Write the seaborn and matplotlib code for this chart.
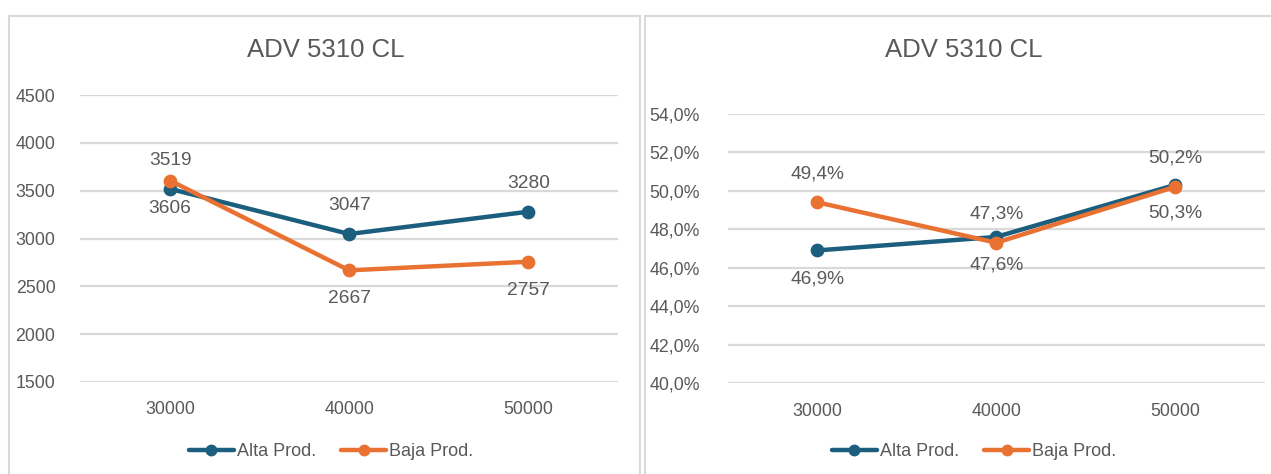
import matplotlib
matplotlib.use("Agg")
import matplotlib.pyplot as plt
from matplotlib.patches import Rectangle
from matplotlib.lines import Line2D
from matplotlib.ticker import FuncFormatter, MultipleLocator
import seaborn as sns
import pandas as pd

# Datos
cargas = ["30000", "40000", "50000"]
series = ["Alta Prod.", "Baja Prod."]
adv_alta = [3519, 3047, 3280]
adv_baja = [3606, 2667, 2757]
pct_alta = [46.9, 47.6, 50.3]
pct_baja = [49.4, 47.3, 50.2]
titulo = "ADV 5310 CL"

AZUL = "#1B5E7E"
NARANJA = "#E97132"
GRIS_TXT = "#595959"
GRIS_LIN = "#D9D9D9"
colores = [AZUL, NARANJA]

sns.set_style("white")
plt.rcParams["font.family"] = ["Liberation Sans", "DejaVu Sans"]

fig = plt.figure(figsize=(12.71, 4.74), dpi=100)


def tabla(a, b):
    return pd.DataFrame({
        "carga": cargas * 2,
        "valor": list(a) + list(b),
        "serie": [series[0]] * 3 + [series[1]] * 3,
    })


def panel(ax, df, fmt, ylim, paso, pad_y):
    sns.pointplot(data=df, x="carga", y="valor", hue="serie", order=cargas,
                  hue_order=series, palette=colores, markers="o",
                  markersize=7.5, linewidth=3.2, ax=ax, legend=False)
    ax.set_ylim(*ylim)
    ax.set_xlim(-0.5, 2.5)
    ax.yaxis.set_major_locator(MultipleLocator(paso))
    ax.yaxis.set_major_formatter(FuncFormatter(lambda v, p: fmt(v, True)))
    ax.grid(axis="y", color=GRIS_LIN, lw=1.6)
    ax.set_axisbelow(True)
    for s in ax.spines.values():
        s.set_visible(False)
    ax.tick_params(axis="both", length=0, labelsize=12.8, colors=GRIS_TXT)
    ax.tick_params(axis="y", pad=pad_y)
    ax.tick_params(axis="x", pad=14)
    ax.set_xlabel("")
    ax.set_ylabel("")


def etiquetas(ax, alta, baja, fmt, alta_arriba):
    for i in range(3):
        da = 20.5 if alta_arriba else -20.5
        ax.annotate(fmt(alta[i], False), (i, alta[i]), xytext=(0, da),
                    textcoords="offset points", ha="center", va="center",
                    fontsize=13.8, color=GRIS_TXT)
        ax.annotate(fmt(baja[i], False), (i, baja[i]), xytext=(0, -da),
                    textcoords="offset points", ha="center", va="center",
                    fontsize=13.8, color=GRIS_TXT)


def fmt_num(v, eje):
    return f"{v:.0f}"


def fmt_pct(v, eje):
    return f"{v:.1f}%".replace(".", ",")


# Marcos de los dos gráficos
W, H = 1271, 474
for x0, x1 in [(8.5, 640.5), (644.5, 1290)]:
    fig.patches.append(Rectangle((x0 / W, -0.05), (x1 - x0) / W, 1.05 - 15.5 / H,
                                 transform=fig.transFigure, fill=False,
                                 edgecolor=GRIS_LIN, lw=1.5))

ax1 = fig.add_axes([80.4 / W, (H - 382) / H, 537.6 / W, 287 / H])
panel(ax1, tabla(adv_alta, adv_baja), fmt_num, (1500, 4500), 500, 18)
etiquetas(ax1, adv_alta, adv_baja, fmt_num, True)

ax2 = fig.add_axes([727.8 / W, (H - 383.3) / H, 536.7 / W, 269.6 / H])
panel(ax2, tabla(pct_alta, pct_baja), fmt_pct, (40, 54), 2, 20)
etiquetas(ax2, pct_alta, pct_baja, fmt_pct, False)

manijas = [Line2D([], [], color=c, lw=3.2, marker="o", markersize=7.5)
           for c in colores]

for ax, cx, lx in [(ax1, 325.5, 331), (ax2, 964, 974)]:
    fig.text(cx / W, 1 - 50 / H, titulo, ha="center", va="center",
             fontsize=18.5, color=GRIS_TXT)
    ax.legend(manijas, series, loc="center", bbox_to_anchor=(lx / W, 1 - 452 / H),
              bbox_transform=fig.transFigure, ncol=2, frameon=False,
              fontsize=13, labelcolor=GRIS_TXT, handlelength=2.5,
              handletextpad=0.15, columnspacing=1.4)

fig.savefig("out.png", dpi=100)
